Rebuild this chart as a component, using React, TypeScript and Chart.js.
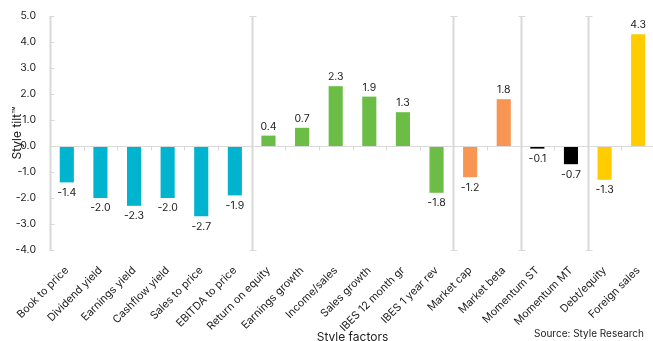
import React, { useEffect, useRef } from "react";
import { Chart, registerables } from "chart.js";

Chart.register(...registerables);

const categories = [
  "Book to price",
  "Dividend yield",
  "Earnings yield",
  "Cashflow yield",
  "Sales to price",
  "EBITDA to price",
  "Return on equity",
  "Earnings growth",
  "Income/sales",
  "Sales growth",
  "IBES 12 month gr",
  "IBES 1 year rev",
  "Market cap",
  "Market beta",
  "Momentum ST",
  "Momentum MT",
  "Debt/equity",
  "Foreign sales",
];

const values = [-1.4, -2.0, -2.3, -2.0, -2.7, -1.9, 0.4, 0.7, 2.3, 1.9, 1.3, -1.8, -1.2, 1.8, -0.1, -0.7, -1.3, 4.3];

const groups = [
  "value", "value", "value", "value", "value", "value",
  "growth", "growth", "growth", "growth", "growth", "growth",
  "size", "size",
  "momentum", "momentum",
  "other", "other",
];

const groupColors: Record<string, string> = {
  value: "#00B4D0",
  growth: "#6BBD45",
  size: "#F79552",
  momentum: "#000000",
  other: "#FFCC00",
};

const yMin = -4;
const yMax = 5;
const yStep = 1;

const FONT = "Inter, 'Open Sans', sans-serif";
const GRID = "#d9d9d9";
const TEXT = "#222222";

const decorPlugin = {
  id: "decor",
  afterDatasetsDraw(chart: any) {
    const { ctx, chartArea, scales } = chart;
    const x = scales.x;
    const y = scales.y;
    const y0 = Math.round(y.getPixelForValue(0)) + 0.5;
    const top = Math.round(chartArea.top) + 0.5;
    const bottom = Math.round(chartArea.bottom) + 0.5;
    const n = categories.length;
    const boundary = (i: number) => {
      const a = x.getPixelForValue(i - 1);
      const b = x.getPixelForValue(i);
      return (a + b) / 2;
    };
    ctx.save();
    ctx.strokeStyle = GRID;
    ctx.lineWidth = 1;
    ctx.beginPath();
    ctx.moveTo(chartArea.left, y0);
    ctx.lineTo(chartArea.right, y0);
    ctx.stroke();
    for (let i = 1; i < n; i++) {
      const bx = Math.round(boundary(i)) + 0.5;
      ctx.beginPath();
      ctx.moveTo(bx, y0);
      ctx.lineTo(bx, y0 + 4);
      ctx.stroke();
    }
    const lx = Math.round(chartArea.left) + 0.5;
    ctx.lineWidth = 2;
    ctx.beginPath();
    ctx.moveTo(lx, top);
    ctx.lineTo(lx, bottom);
    ctx.stroke();
    ctx.lineWidth = 1;
    for (let v = yMin; v <= yMax; v += yStep) {
      const ty = Math.round(y.getPixelForValue(v)) + 0.5;
      ctx.beginPath();
      ctx.moveTo(lx - 1, ty);
      ctx.lineTo(lx + 4, ty);
      ctx.stroke();
    }
    for (let i = 1; i < n; i++) {
      if (groups[i] === groups[i - 1]) continue;
      const sx = Math.round(boundary(i)) + 0.5;
      ctx.lineWidth = 2;
      ctx.beginPath();
      ctx.moveTo(sx, top);
      ctx.lineTo(sx, bottom);
      ctx.stroke();
      ctx.lineWidth = 1;
      ctx.beginPath();
      ctx.moveTo(sx - 3, top);
      ctx.lineTo(sx + 4, top);
      ctx.moveTo(sx - 3, bottom);
      ctx.lineTo(sx + 4, bottom);
      ctx.stroke();
    }
    ctx.fillStyle = TEXT;
    ctx.font = `10.5px ${FONT}`;
    ctx.textAlign = "center";
    const meta = chart.getDatasetMeta(0);
    meta.data.forEach((bar: any, i: number) => {
      const v = values[i];
      const label = v.toFixed(1);
      if (v >= 0) {
        ctx.textBaseline = "bottom";
        ctx.fillText(label, bar.x, bar.y - 4);
      } else {
        ctx.textBaseline = "top";
        ctx.fillText(label, bar.x, bar.y + 5);
      }
    });
    ctx.restore();
  },
};

export default function App() {
  const ref = useRef<HTMLCanvasElement | null>(null);

  useEffect(() => {
    if (!ref.current) return;
    const chart = new Chart(ref.current, {
      type: "bar",
      data: {
        labels: categories,
        datasets: [
          {
            data: values,
            backgroundColor: groups.map((g) => groupColors[g]),
            barPercentage: 0.42,
            categoryPercentage: 1,
            borderWidth: 0,
          },
        ],
      },
      options: {
        animation: false,
        responsive: false,
        maintainAspectRatio: false,
        layout: { padding: { top: 16, right: 5, left: 0, bottom: 0 } },
        plugins: {
          legend: { display: false },
          tooltip: { enabled: false },
        },
        scales: {
          x: {
            grid: { display: false },
            border: { display: false },
            ticks: {
              minRotation: 45,
              maxRotation: 45,
              autoSkip: false,
              padding: 6,
              color: TEXT,
              font: { family: FONT, size: 10.8 },
            },
            title: {
              display: true,
              text: "Style factors",
              color: TEXT,
              font: { family: FONT, size: 12 },
              padding: { top: 0, bottom: -4 },
            },
            afterFit: (scale: any) => {
              scale.height = 91;
            },
          },
          y: {
            min: yMin,
            max: yMax,
            grid: { display: false },
            border: { display: false },
            ticks: {
              stepSize: yStep,
              padding: 6,
              color: TEXT,
              font: { family: FONT, size: 10.5 },
              callback: (v: any) => Number(v).toFixed(1),
            },
            title: {
              display: true,
              text: "Style tilt™",
              color: TEXT,
              font: { family: FONT, size: 12 },
              padding: { top: 10, bottom: 0 },
            },
            afterFit: (scale: any) => {
              scale.width = 50;
            },
          },
        },
      },
      plugins: [decorPlugin],
    });
    return () => chart.destroy();
  }, []);

  return (
    <div style={{ position: "absolute", left: 0, top: 0, width: 653, height: 341, overflow: "hidden", background: "#fff" }}>
      <canvas ref={ref} width={660} height={341} style={{ display: "block", width: 660, height: 341 }} />
      <div
        style={{
          position: "absolute",
          right: 9,
          top: 327,
          fontFamily: FONT,
          fontSize: 10,
          color: TEXT,
          whiteSpace: "nowrap",
        }}
      >
        Source: Style Research
      </div>
    </div>
  );
}
